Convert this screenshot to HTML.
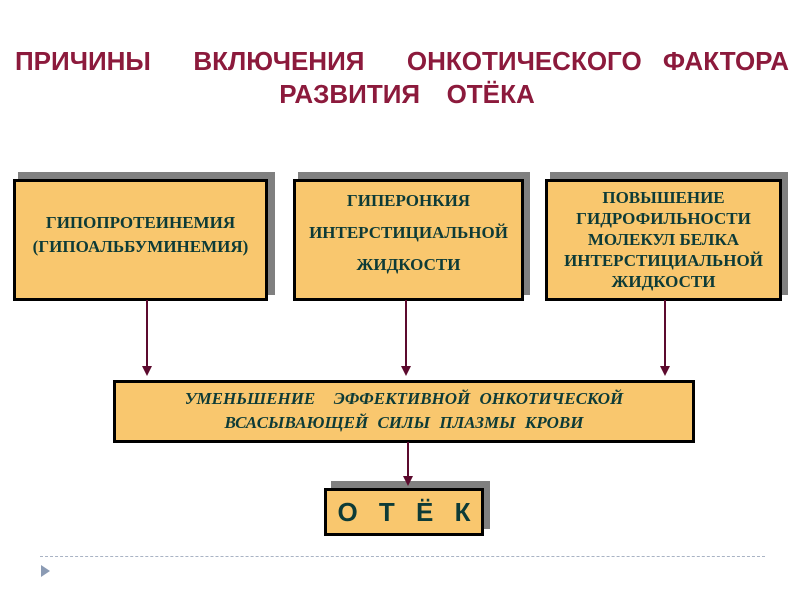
<!DOCTYPE html>
<html><head><meta charset="utf-8"><style>
body{margin:0;width:800px;height:600px;background:#fff;position:relative;overflow:hidden;font-family:"Liberation Serif",serif}
.t{position:absolute;left:0;width:800px;text-align:center;color:#8c1a3c;font:bold 26px "Liberation Sans",sans-serif;white-space:nowrap}
.sh{position:absolute;background:#808080}
.b{position:absolute;background:#f9c76e;border:3px solid #000;box-sizing:border-box;color:#0d3b37;font-weight:bold;font-size:17px;text-align:center;display:flex;flex-direction:column;justify-content:center;line-height:21px;white-space:nowrap}
.a{position:absolute;width:2px;background:#5c0a2e}
.h{position:absolute;width:0;height:0;border-left:5px solid transparent;border-right:5px solid transparent;border-top:10px solid #5c0a2e}
</style></head><body>
<div class="t" style="top:46px;left:2px;word-spacing:14px">ПРИЧИНЫ&nbsp; ВКЛЮЧЕНИЯ&nbsp; ОНКОТИЧЕСКОГО ФАКТОРА</div>
<div class="t" style="top:79px;left:7px;word-spacing:6px">РАЗВИТИЯ&nbsp; ОТЁКА</div>

<div class="sh" style="left:18px;top:172px;width:257px;height:123px"></div>
<div class="b" style="left:13px;top:179px;width:255px;height:122px;padding-bottom:10px;line-height:24px">ГИПОПРОТЕИНЕМИЯ<br>(ГИПОАЛЬБУМИНЕМИЯ)</div>

<div class="sh" style="left:298px;top:172px;width:232px;height:123px"></div>
<div class="b" style="left:293px;top:179px;width:231px;height:122px;justify-content:flex-start;padding-top:3px;line-height:32px">ГИПЕРОНКИЯ<br>ИНТЕРСТИЦИАЛЬНОЙ<br>ЖИДКОСТИ</div>

<div class="sh" style="left:550px;top:172px;width:238px;height:123px"></div>
<div class="b" style="left:545px;top:179px;width:237px;height:122px;justify-content:flex-start;padding-top:5px">ПОВЫШЕНИЕ<br>ГИДРОФИЛЬНОСТИ<br>МОЛЕКУЛ БЕЛКА<br>ИНТЕРСТИЦИАЛЬНОЙ<br>ЖИДКОСТИ</div>

<div class="a" style="left:146px;top:300px;height:68px"></div><div class="h" style="left:142px;top:366px"></div>
<div class="a" style="left:405px;top:300px;height:68px"></div><div class="h" style="left:401px;top:366px"></div>
<div class="a" style="left:664px;top:300px;height:68px"></div><div class="h" style="left:660px;top:366px"></div>

<div class="b" style="left:113px;top:380px;width:582px;height:63px;font-style:italic;justify-content:flex-start;padding-top:4px;line-height:24px;word-spacing:5px">УМЕНЬШЕНИЕ &nbsp;ЭФФЕКТИВНОЙ ОНКОТИЧЕСКОЙ<br>ВСАСЫВАЮЩЕЙ СИЛЫ ПЛАЗМЫ КРОВИ</div>

<div class="sh" style="left:331px;top:481px;width:159px;height:48px"></div>
<div class="a" style="left:407px;top:442px;height:36px"></div><div class="h" style="left:403px;top:476px"></div>
<div class="b" style="left:324px;top:488px;width:160px;height:48px;font:bold 26px 'Liberation Sans',sans-serif;color:#0d3b37;word-spacing:14px">О Т Ё К</div>

<div style="position:absolute;left:40px;top:556px;width:725px;border-top:1px dashed #a9b3c4"></div>
<div style="position:absolute;left:41px;top:565px;width:0;height:0;border-top:6px solid transparent;border-bottom:6px solid transparent;border-left:9px solid #8b9bb4"></div>
</body></html>
